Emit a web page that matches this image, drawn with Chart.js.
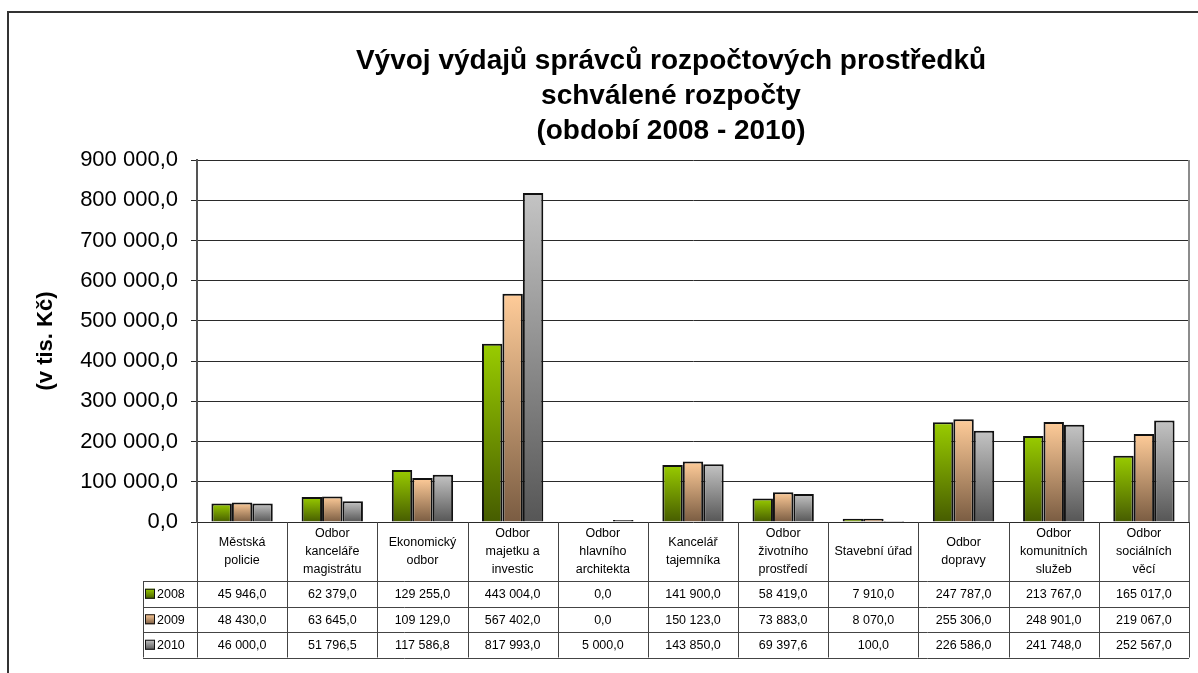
<!DOCTYPE html>
<html>
<head>
<meta charset="utf-8">
<script src="https://cdn.jsdelivr.net/npm/chart.js@4.4.1/dist/chart.umd.min.js"></script>
<style>
  body { margin: 0; background: #fff; }
  canvas { display: block; }
</style>
</head>
<body>
<canvas id="budgetChart" width="1198" height="673"></canvas>
<script>
const titleLines = ['Vývoj výdajů správců rozpočtových prostředků', 'schválené rozpočty', '(období 2008 - 2010)'];
const axisTitle = '(v tis. Kč)';

const categories = [
  ['Městská', 'policie'],
  ['Odbor', 'kanceláře', 'magistrátu'],
  ['Ekonomický', 'odbor'],
  ['Odbor', 'majetku a', 'investic'],
  ['Odbor', 'hlavního', 'architekta'],
  ['Kancelář', 'tajemníka'],
  ['Odbor', 'životního', 'prostředí'],
  ['Stavební úřad'],
  ['Odbor', 'dopravy'],
  ['Odbor', 'komunitních', 'služeb'],
  ['Odbor', 'sociálních', 'věcí']
];

const years = ['2008', '2009', '2010'];
const values2008 = [45946.0, 62379.0, 129255.0, 443004.0, 0.0, 141900.0, 58419.0, 7910.0, 247787.0, 213767.0, 165017.0];
const values2009 = [48430.0, 63645.0, 109129.0, 567402.0, 0.0, 150123.0, 73883.0, 8070.0, 255306.0, 248901.0, 219067.0];
const values2010 = [46000.0, 51796.5, 117586.8, 817993.0, 5000.0, 143850.0, 69397.6, 100.0, 226586.0, 241748.0, 252567.0];

const yMin = 0;
const yMax = 900000;
const yStep = 100000;

// top / bottom colours of the bar gradients
const colorTops = ['#99cc00', '#ffcc99', '#c4c4c4'];
const colorBottoms = ['#465c00', '#7a5c42', '#565656'];

const FONT = "'Liberation Sans', Arial, sans-serif";

// 45946 -> "45 946,0"
const fmt = (v) => {
  const parts = v.toFixed(1).split('.');
  return parts[0].replace(/\B(?=(\d{3})+(?!\d))/g, ' ') + ',' + parts[1];
};

const barGradient = (i) => (context) => {
  const chart = context.chart;
  const area = chart.chartArea;
  if (!area || context.raw === undefined) return colorTops[i];
  const y = chart.scales.y;
  const top = y.getPixelForValue(context.raw);
  const bottom = y.getPixelForValue(0);
  if (bottom - top < 1) return colorTops[i];
  const g = chart.ctx.createLinearGradient(0, top, 0, bottom);
  g.addColorStop(0, colorTops[i]);
  g.addColorStop(1, colorBottoms[i]);
  return g;
};

// frame + title + data table under the plot
const tablePlugin = {
  id: 'tablePlugin',
  beforeDraw(chart) {
    const c = chart.ctx;
    c.save();
    c.fillStyle = '#fff';
    c.fillRect(0, 0, chart.width, chart.height);
    c.strokeStyle = '#333';
    c.lineWidth = 2;
    c.beginPath();
    c.moveTo(8, chart.height);
    c.lineTo(8, 12);
    c.lineTo(chart.width, 12);
    c.stroke();
    c.restore();
  },
  afterDraw(chart) {
    const c = chart.ctx;
    const area = chart.chartArea;
    const x = chart.scales.x;
    c.save();

    // title
    c.fillStyle = '#000';
    c.font = 'bold 28px ' + FONT;
    c.textAlign = 'center';
    c.textBaseline = 'middle';
    titleLines.forEach((t, i) => c.fillText(t, 671, 61 + i * 35));

    // plot right border
    c.strokeStyle = '#8c8c8c';
    c.lineWidth = 2;
    c.beginPath();
    c.moveTo(area.right, area.top);
    c.lineTo(area.right, area.bottom);
    c.stroke();

    // column edges from the category scale
    const edges = [area.left];
    for (let i = 0; i < categories.length - 1; i++) {
      edges.push((x.getPixelForValue(i) + x.getPixelForValue(i + 1)) / 2);
    }
    edges.push(area.right);

    const headTop = area.bottom;
    const headBottom = area.bottom + 59;
    const rowH = 25.5;
    const legendLeft = 143;
    const tableBottom = headBottom + rowH * 3;

    c.strokeStyle = '#444';
    c.lineWidth = 1;
    c.beginPath();
    edges.forEach((e) => {
      c.moveTo(Math.round(e) + 0.5, headTop);
      c.lineTo(Math.round(e) + 0.5, tableBottom);
    });
    c.moveTo(legendLeft + 0.5, headBottom);
    c.lineTo(legendLeft + 0.5, tableBottom);
    for (let r = 0; r <= 3; r++) {
      const yy = Math.round(headBottom + r * rowH) + 0.5;
      c.moveTo(legendLeft, yy);
      c.lineTo(area.right, yy);
    }
    c.stroke();

    c.font = '12.5px ' + FONT;
    c.fillStyle = '#000';
    c.textAlign = 'center';
    c.textBaseline = 'middle';
    const headMid = (headTop + headBottom) / 2;
    categories.forEach((lines, i) => {
      const cx = (edges[i] + edges[i + 1]) / 2;
      const start = headMid - (lines.length - 1) * 18 / 2;
      lines.forEach((l, j) => c.fillText(l, cx, start + j * 18));
    });

    const series = [values2008, values2009, values2010];
    series.forEach((vals, r) => {
      const cy = headBottom + rowH * r + rowH / 2;
      c.textAlign = 'center';
      vals.forEach((v, i) => {
        c.fillText(fmt(v), (edges[i] + edges[i + 1]) / 2, cy + 1);
      });
      // legend key
      const g = c.createLinearGradient(0, cy - 5, 0, cy + 5);
      g.addColorStop(0, colorTops[r]);
      g.addColorStop(1, colorBottoms[r]);
      c.fillStyle = g;
      c.fillRect(145, cy - 5, 10, 10);
      c.strokeStyle = '#111';
      c.strokeRect(145.5, cy - 4.5, 9, 9);
      c.fillStyle = '#000';
      c.textAlign = 'left';
      c.fillText(years[r], 157, cy + 1);
    });

    c.restore();
  }
};

const ctx = document.getElementById('budgetChart').getContext('2d');
const budgetChart = new Chart(ctx, {
  type: 'bar',
  data: {
    labels: categories,
    datasets: [values2008, values2009, values2010].map((vals, i) => ({
      label: years[i],
      data: vals,
      backgroundColor: barGradient(i),
      borderColor: '#111',
      borderWidth: 2,
      categoryPercentage: 0.68,
      barPercentage: 1
    }))
  },
  options: {
    responsive: false,
    animation: false,
    layout: {
      padding: { left: 29, right: 9, top: 160, bottom: 151 }
    },
    scales: {
      x: {
        display: false
      },
      y: {
        min: yMin,
        max: yMax,
        afterFit(scale) {
          scale.width = 168;
        },
        ticks: {
          stepSize: yStep,
          padding: 13,
          color: '#000',
          font: { family: FONT, size: 22 },
          callback: (value) => fmt(value)
        },
        grid: {
          color: '#2a2a2a',
          tickColor: '#2a2a2a',
          tickLength: 6,
          lineWidth: 1
        },
        border: {
          color: '#555',
          width: 2
        },
        title: {
          display: true,
          text: axisTitle,
          color: '#000',
          font: { family: FONT, size: 22, weight: 'bold' },
          padding: { top: 4, bottom: 4 }
        }
      }
    },
    plugins: {
      legend: { display: false },
      tooltip: { enabled: false },
      title: { display: false }
    }
  },
  plugins: [tablePlugin]
});
</script>
</body>
</html>
